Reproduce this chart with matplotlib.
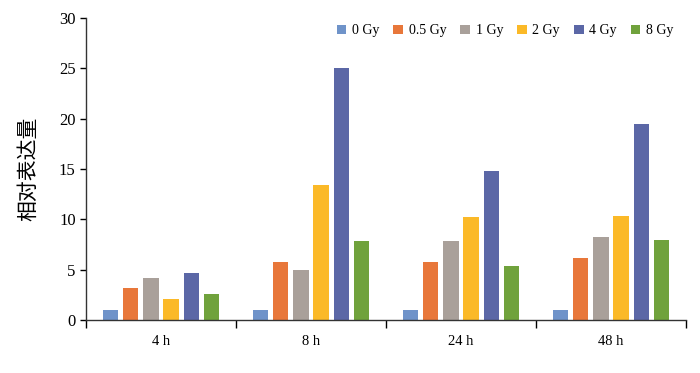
import matplotlib
matplotlib.use("Agg")
import matplotlib.pyplot as plt
import numpy as np

# data
groups = ["4 h", "8 h", "24 h", "48 h"]
doses = ["0 Gy", "0.5 Gy", "1 Gy", "2 Gy", "4 Gy", "8 Gy"]
v_0gy = [1.0, 1.0, 1.0, 1.0]
v_05gy = [3.2, 5.8, 5.8, 6.2]
v_1gy = [4.2, 5.0, 7.8, 8.2]
v_2gy = [2.1, 13.4, 10.2, 10.3]
v_4gy = [4.7, 25.0, 14.8, 19.5]
v_8gy = [2.6, 7.8, 5.4, 7.9]
colors = ["#6F93C9", "#E8773A", "#A9A09A", "#FBB928", "#5B67A6", "#70A23C"]

series = [v_0gy, v_05gy, v_1gy, v_2gy, v_4gy, v_8gy]

plt.rcParams['font.family'] = ['Liberation Serif', 'DejaVu Serif']

fig = plt.figure(figsize=(7, 3.73), dpi=100)
ax = fig.add_axes([0.123, 0.142, 0.857, 0.81])

x = np.arange(len(groups))
step = 0.135
width = 0.103
for i, (vals, c, lab) in enumerate(zip(series, colors, doses)):
    off = (i - 2.5) * step
    ax.bar(x + off, vals, width=width, color=c, label=lab, zorder=2)

ax.set_xlim(-0.5, len(groups) - 0.5)
ax.set_ylim(0, 30)
ax.set_yticks(range(0, 31, 5))
ax.tick_params(axis='y', labelsize=12, direction='out', length=4, width=1)

# boundaries as major ticks, labels as minor
ax.set_xticks(np.arange(-0.5, len(groups), 1.0))
ax.set_xticklabels([])
ax.set_xticks(x, minor=True)
ax.set_xticklabels(groups, minor=True, fontsize=10.5)
ax.tick_params(axis='x', which='major', direction='out', length=6, width=1)
ax.tick_params(axis='x', which='minor', length=0, pad=11)

for s in ['top', 'right']:
    ax.spines[s].set_visible(False)
for s in ['left', 'bottom']:
    ax.spines[s].set_linewidth(1)
    ax.spines[s].set_color('#333333')

ax.set_ylabel("相对表达量", fontsize=15, family=['Noto Sans CJK SC', 'DejaVu Sans'], labelpad=14)

ax.legend(ncol=6, loc='upper right', bbox_to_anchor=(1.0, 1.02), frameon=False,
          fontsize=10, handlelength=0.7, handleheight=0.7, handletextpad=0.4,
          columnspacing=1.0)

fig.savefig("out.png", dpi=100)
